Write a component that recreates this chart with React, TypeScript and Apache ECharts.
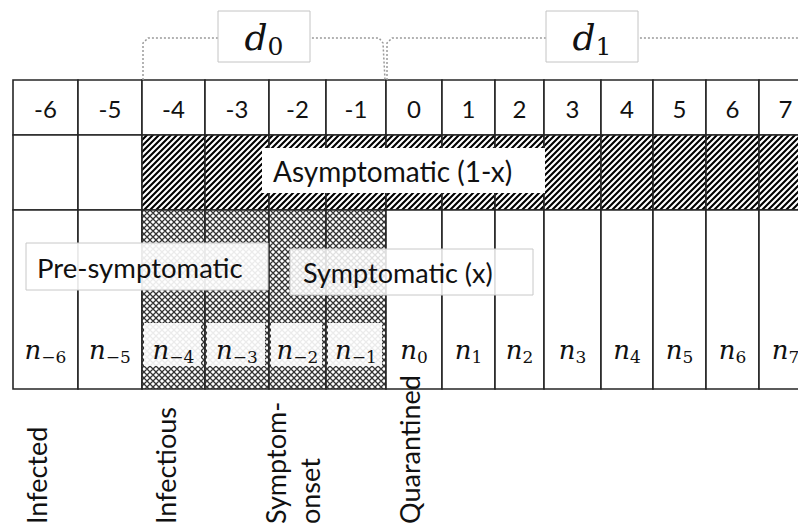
import { useEffect, useRef } from 'react';
import * as echarts from 'echarts';

// ---------------- data ----------------
const days = [-6, -5, -4, -3, -2, -1, 0, 1, 2, 3, 4, 5, 6, 7];
const dayLabels = ['-6', '-5', '-4', '-3', '-2', '-1', '0', '1', '2', '3', '4', '5', '6', '7'];
const countSubscripts = ['−6', '−5', '−4', '−3', '−2', '−1', '0', '1', '2', '3', '4', '5', '6', '7'];
const asymptomaticDays = [-4, -3, -2, -1, 0, 1, 2, 3, 4, 5, 6, 7];
const infectiousDays = [-4, -3, -2, -1];
const milestoneDays = [-6, -4, -2, 0];
const milestoneLabels = ['Infected', 'Infectious', 'Symptom-\nonset', 'Quarantined'];
const periodFrom = [-4, 0];
const periodTo = [-1, 7];
const periodSubs = ['0', '1'];
const asymptomaticLabel = 'Asymptomatic (1-x)';
const presymptomaticLabel = 'Pre-symptomatic';
const symptomaticLabel = 'Symptomatic (x)';

// ---------------- layout ----------------
const COL_W = [65, 64, 63, 64, 57, 60, 56, 53, 49, 57, 52, 53, 53, 53];
const ROW_H = [55, 75, 179];
const colEdges: number[] = [0];
COL_W.forEach((w) => colEdges.push(colEdges[colEdges.length - 1] + w));
const rowEdges: number[] = [0];
ROW_H.forEach((h) => rowEdges.push(rowEdges[rowEdges.length - 1] + h));
const TOTAL_W = colEdges[colEdges.length - 1];
const TOTAL_H = rowEdges[rowEdges.length - 1];

const SANS = 'Lato';
const MATH = 'DejaVu Serif';

const svgUrl = (s: string) => 'data:image/svg+xml;charset=utf-8,' + encodeURIComponent(s);
const HATCH: any = {
  image: svgUrl(
    '<svg xmlns="http://www.w3.org/2000/svg" width="6" height="6"><rect width="6" height="6" fill="#fff"/><path d="M-1,7 L7,-1 M-4,4 L4,-4 M2,10 L10,2" stroke="#000" stroke-width="2.1"/></svg>'
  ),
  repeat: 'repeat',
  imageWidth: 6,
  imageHeight: 6,
};
const CROSS: any = {
  image: svgUrl(
    '<svg xmlns="http://www.w3.org/2000/svg" width="6" height="6"><rect width="6" height="6" fill="#fff"/><path d="M-1,7 L7,-1 M-4,4 L4,-4 M2,10 L10,2 M-1,-1 L7,7 M-4,2 L4,10 M2,-4 L10,4" stroke="#333" stroke-width="1.3"/><circle cx="3" cy="0" r="1" fill="#fff"/><circle cx="3" cy="6" r="1" fill="#fff"/></svg>'
  ),
  repeat: 'repeat',
  imageWidth: 6,
  imageHeight: 6,
};

export default function App() {
  const ref = useRef<HTMLDivElement>(null);

  useEffect(() => {
    if (!ref.current) return;
    const chart = echarts.init(ref.current, undefined, { renderer: 'svg' });

    const cellData: number[][] = [];
    days.forEach((_, i) => {
      ROW_H.forEach((__, r) => {
        cellData.push([colEdges[i], rowEdges[r], colEdges[i + 1], rowEdges[r + 1], i, r]);
      });
    });

    const periodData = periodFrom.map((f, k) => [
      colEdges[days.indexOf(f)],
      colEdges[days.indexOf(periodTo[k]) + 1],
      k,
    ]);

    const milestoneData = milestoneDays.map((d, k) => [colEdges[days.indexOf(d)], TOTAL_H, k]);

    const option: any = {
      animation: false,
      backgroundColor: '#fff',
      grid: {
        left: 13,
        top: 80,
        width: TOTAL_W,
        height: TOTAL_H,
        containLabel: false,
        outerBoundsMode: 'none',
      },
      xAxis: { type: 'value', min: 0, max: TOTAL_W, show: false },
      yAxis: { type: 'value', min: 0, max: TOTAL_H, inverse: true, show: false },
      series: [
        {
          type: 'custom',
          name: 'cells',
          clip: false,
          data: cellData,
          encode: { x: [0, 2], y: [1, 3] },
          renderItem: (params: any, api: any) => {
            const a = api.coord([api.value(0), api.value(1)]);
            const b = api.coord([api.value(2), api.value(3)]);
            const i = api.value(4);
            const r = api.value(5);
            const day = days[i];
            const w = b[0] - a[0];
            const h = b[1] - a[1];
            let fill: any = '#fff';
            if (r === 1 && asymptomaticDays.includes(day)) fill = HATCH;
            if (r === 2 && infectiousDays.includes(day)) fill = CROSS;
            const children: any[] = [
              {
                type: 'rect',
                shape: { x: a[0], y: a[1], width: w, height: h },
                style: { fill, stroke: '#262626', lineWidth: 1.6 },
              },
            ];
            const cx = a[0] + w / 2;
            if (r === 0) {
              children.push({
                type: 'text',
                x: cx,
                y: a[1] + h / 2 + 1,
                style: {
                  text: dayLabels[i],
                  fontFamily: SANS,
                  fontSize: 24,
                  fill: '#111',
                  align: 'center',
                  verticalAlign: 'middle',
                },
              });
            }
            if (r === 2) {
              const ny = a[1] + 140;
              if (infectiousDays.includes(day)) {
                children.push({
                  type: 'rect',
                  shape: { x: a[0] + 2, y: ny - 27, width: w - 6, height: 43 },
                  style: { fill: 'rgba(255,255,255,0.9)' },
                });
              }
              children.push({
                type: 'text',
                x: cx,
                y: ny,
                style: {
                  text: `{n|n}{s|${countSubscripts[i]}}`,
                  align: 'center',
                  verticalAlign: 'middle',
                  rich: {
                    n: { fontFamily: MATH, fontStyle: 'italic', fontSize: 26, lineHeight: 30, fill: '#111' },
                    s: { fontFamily: MATH, fontSize: 17, lineHeight: 17, verticalAlign: 'bottom', fill: '#111' },
                  },
                },
              });
            }
            return { type: 'group', children };
          },
        },
        {
          type: 'custom',
          name: 'periods',
          clip: false,
          data: periodData,
          encode: { x: [0, 1] },
          z: 5,
          renderItem: (params: any, api: any) => {
            const pa = api.coord([api.value(0), 0]);
            const pb = api.coord([api.value(1), 0]);
            const k = api.value(2);
            const yb = pa[1];
            const yt = yb - 42;
            const l = pa[0];
            const rr = pb[0];
            const visR = Math.min(rr, api.getWidth());
            const cx = (l + visR) / 2;
            return {
              type: 'group',
              children: [
                {
                  type: 'polyline',
                  shape: {
                    points: [
                      [l + 1, yb],
                      [l + 1, yt + 5],
                      [l + 6, yt],
                      [rr - 7, yt],
                      [rr - 3, yt + 5],
                      [rr - 1, yb],
                    ],
                  },
                  style: { stroke: '#9a9a9a', lineWidth: 1.5, lineDash: [2, 2], fill: 'none' },
                },
                {
                  type: 'rect',
                  shape: { x: cx - 46, y: yt - 27, width: 92, height: 51 },
                  style: { fill: '#fff', stroke: '#c4c4c4', lineWidth: 1 },
                },
                {
                  type: 'text',
                  x: cx,
                  y: yt - 1,
                  style: {
                    text: `{d|d}{s|${periodSubs[k]}}`,
                    align: 'center',
                    verticalAlign: 'middle',
                    rich: {
                      d: { fontFamily: MATH, fontStyle: 'italic', fontSize: 36, lineHeight: 44, fill: '#111' },
                      s: { fontFamily: MATH, fontSize: 25, lineHeight: 26, verticalAlign: 'bottom', fill: '#111' },
                    },
                  },
                },
              ],
            };
          },
        },
        {
          type: 'custom',
          name: 'milestones',
          clip: false,
          data: milestoneData,
          encode: { x: 0, y: 1 },
          renderItem: (params: any, api: any) => {
            const p = api.coord([api.value(0), api.value(1)]);
            const k = api.value(2);
            return {
              type: 'text',
              x: p[0] + 23,
              y: p[1] + 135,
              rotation: Math.PI / 2,
              style: {
                text: milestoneLabels[k],
                fontFamily: SANS,
                fontSize: 27,
                lineHeight: 34,
                fill: '#111',
                align: 'left',
                verticalAlign: 'middle',
              },
            };
          },
        },
      ],
      graphic: [
        {
          type: 'rect',
          z: 20,
          shape: { x: 262, y: 148, width: 283, height: 45 },
          style: { fill: '#fff' },
        },
        {
          type: 'text',
          z: 21,
          x: 273,
          y: 171,
          style: { text: asymptomaticLabel, fontFamily: SANS, fontSize: 28, fill: '#111', align: 'left', verticalAlign: 'middle' },
        },
        {
          type: 'rect',
          z: 20,
          shape: { x: 26, y: 243, width: 242, height: 47 },
          style: { fill: 'rgba(255,255,255,0.9)', stroke: '#c8c8c8', lineWidth: 1 },
        },
        {
          type: 'text',
          z: 21,
          x: 37,
          y: 267,
          style: { text: presymptomaticLabel, fontFamily: SANS, fontSize: 27.5, fill: '#111', align: 'left', verticalAlign: 'middle' },
        },
        {
          type: 'rect',
          z: 20,
          shape: { x: 290, y: 249, width: 243, height: 46 },
          style: { fill: 'rgba(255,255,255,0.85)', stroke: '#c8c8c8', lineWidth: 1 },
        },
        {
          type: 'text',
          z: 21,
          x: 303,
          y: 272,
          style: { text: symptomaticLabel, fontFamily: SANS, fontSize: 27, fill: '#111', align: 'left', verticalAlign: 'middle' },
        },
      ],
    };

    chart.setOption(option);
    return () => chart.dispose();
  }, []);

  return (
    <div
      ref={ref}
      style={{ position: 'absolute', left: 0, top: 0, width: 798, height: 531, background: '#fff' }}
    />
  );
}
